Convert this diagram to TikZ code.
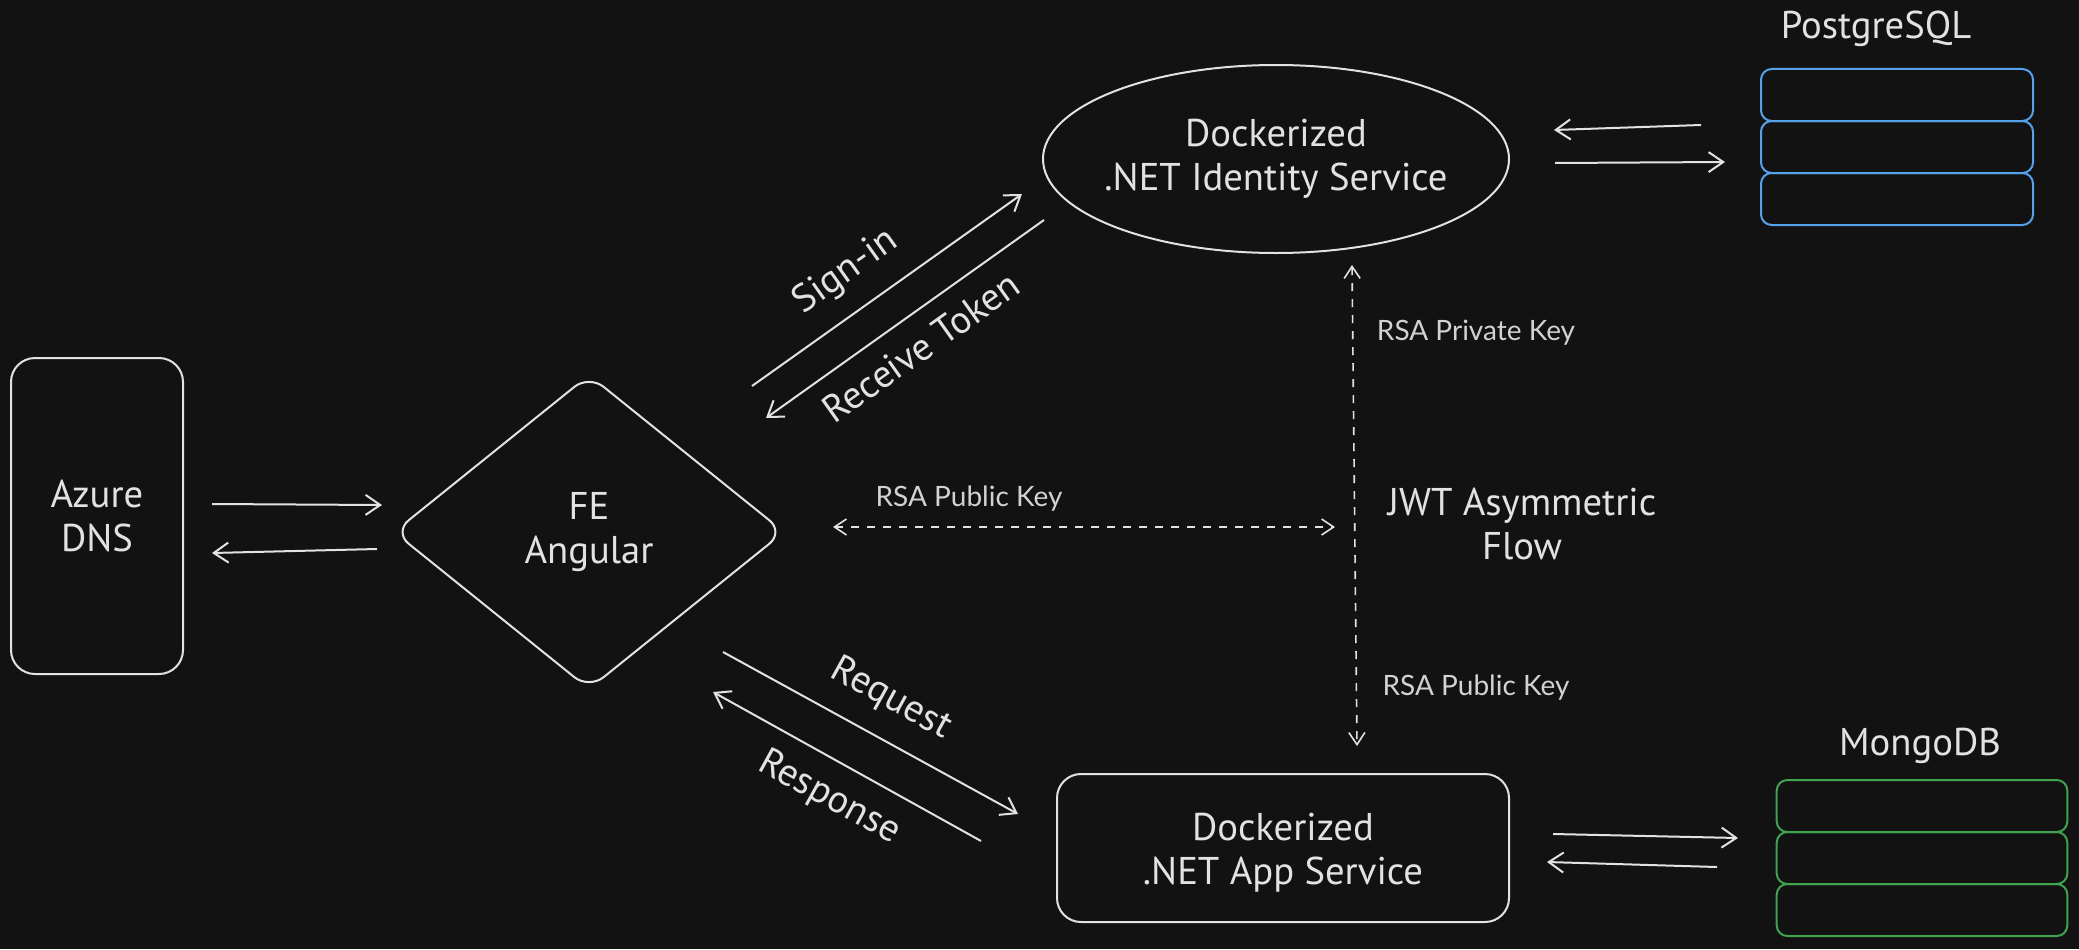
\documentclass[tikz,border=0pt]{standalone}
\usepackage{fontspec}
\setmainfont{PT Sans}
\newfontfamily\labfont{Lato}
\usetikzlibrary{shapes.geometric,arrows.meta}
\definecolor{bg}{HTML}{121212}
\definecolor{fg}{HTML}{E2E2E2}
\definecolor{lab}{HTML}{D2D2D2}
\definecolor{pgblue}{HTML}{55A2EA}
\definecolor{mgreen}{HTML}{3FA350}
\begin{document}
\begin{tikzpicture}[x=0.75pt,y=-0.75pt,
  hand/.style={text=fg,font=\fontsize{29}{33}\selectfont,align=center,inner sep=0pt},
  lbl/.style={text=lab,font=\labfont\fontsize{21}{25}\selectfont,inner sep=0pt},
  box/.style={draw=fg,line width=1.5pt,rounded corners=18pt,inner sep=0pt},
  conn/.style={draw=fg,line width=1.5pt,-{Straight Barb[length=11pt,width=15pt]}},
  dconn/.style={draw=fg,line width=1.2pt,dash pattern=on 6pt off 6pt,{Straight Barb[length=9pt,width=12pt]}-{Straight Barb[length=9pt,width=12pt]}},
  dbrow/.style={line width=1.5pt,rounded corners=8pt,inner sep=0pt,minimum height=39pt}]
\fill[bg] (0,0) rectangle (2079,949);
\useasboundingbox (0,0) rectangle (2079,949);

% nodes
\node[box,hand,minimum width=129pt,minimum height=237pt] (dns) at (97,516) {Azure\\DNS};
\node[draw=fg,line width=1.5pt,diamond,rounded corners=14pt,minimum width=293pt,minimum height=236pt,inner sep=0pt,hand] (fe) at (589,532) {FE\\Angular};
\node[draw=fg,line width=1.5pt,ellipse,inner sep=0pt,minimum width=349.5pt,minimum height=141pt] (id) at (1276,159) {};
\node[hand] (idt) at (id.center) {Dockerized\\.NET Identity Service};
\node[box,minimum width=339pt,minimum height=111pt] (app) at (1283,848) {};
\node[hand] (appt) at (1283,853) {Dockerized\\.NET App Service};

\node[hand] (pgl) at (1876,29) {PostgreSQL};
\node[dbrow,draw=pgblue,minimum width=204pt] (pg1) at (1897,95) {};
\node[dbrow,draw=pgblue,minimum width=204pt] (pg2) at (1897,147) {};
\node[dbrow,draw=pgblue,minimum width=204pt] (pg3) at (1897,199) {};

\node[hand] (mgl) at (1920,746) {MongoDB};
\node[dbrow,draw=mgreen,minimum width=218pt] (mg1) at (1922,806) {};
\node[dbrow,draw=mgreen,minimum width=218pt] (mg2) at (1922,858) {};
\node[dbrow,draw=mgreen,minimum width=218pt] (mg3) at (1922,910) {};

% labels
\node[hand,rotate=35.4] (signin) at (846,272) {Sign-in};
\node[hand,rotate=35.4] (recv) at (921,347) {Receive Token};
\node[hand,rotate=-28.8] (req) at (891,699) {Request};
\node[hand,rotate=-28.8] (resp) at (829,798) {Response};
\node[lbl] (pubh) at (969,499) {RSA Public Key};
\node[lbl] (priv) at (1476,333) {RSA Private Key};
\node[lbl] (pubv) at (1476,688) {RSA Public Key};
\node[hand] (jwt) at (1522,524) {JWT Asymmetric\\Flow};

% connector end points
\coordinate (d1) at (212,504); \coordinate (f1) at (382,505);
\coordinate (f2) at (377,549); \coordinate (d2) at (212,553);
\coordinate (s1) at (752,386); \coordinate (s2) at (1022,194);
\coordinate (r1) at (1044,220); \coordinate (r2) at (766,418);
\coordinate (i1) at (1555,163); \coordinate (p1) at (1725,162);
\coordinate (p2) at (1701,125); \coordinate (i2) at (1554,130);
\coordinate (h1) at (833,527); \coordinate (h2) at (1335,527);
\coordinate (v1) at (1352,265); \coordinate (v2) at (1357,746);
\coordinate (q1) at (723,652); \coordinate (q2) at (1018,814);
\coordinate (o1) at (981,841); \coordinate (o2) at (713,692);
\coordinate (a1) at (1553,834); \coordinate (m1) at (1738,838);
\coordinate (m2) at (1717,867); \coordinate (a2) at (1547,862);

% connectors
\draw[conn] (d1) -- (f1);
\draw[conn] (f2) -- (d2);
\draw[conn] (s1) -- (s2);
\draw[conn] (r1) -- (r2);
\draw[conn] (i1) -- (p1);
\draw[conn] (p2) -- (i2);
\draw[dconn] (h1) -- (h2);
\draw[dconn] (v1) -- (v2);
\draw[conn] (q1) -- (q2);
\draw[conn] (o1) -- (o2);
\draw[conn] (a1) -- (m1);
\draw[conn] (m2) -- (a2);
\end{tikzpicture}
\end{document}
